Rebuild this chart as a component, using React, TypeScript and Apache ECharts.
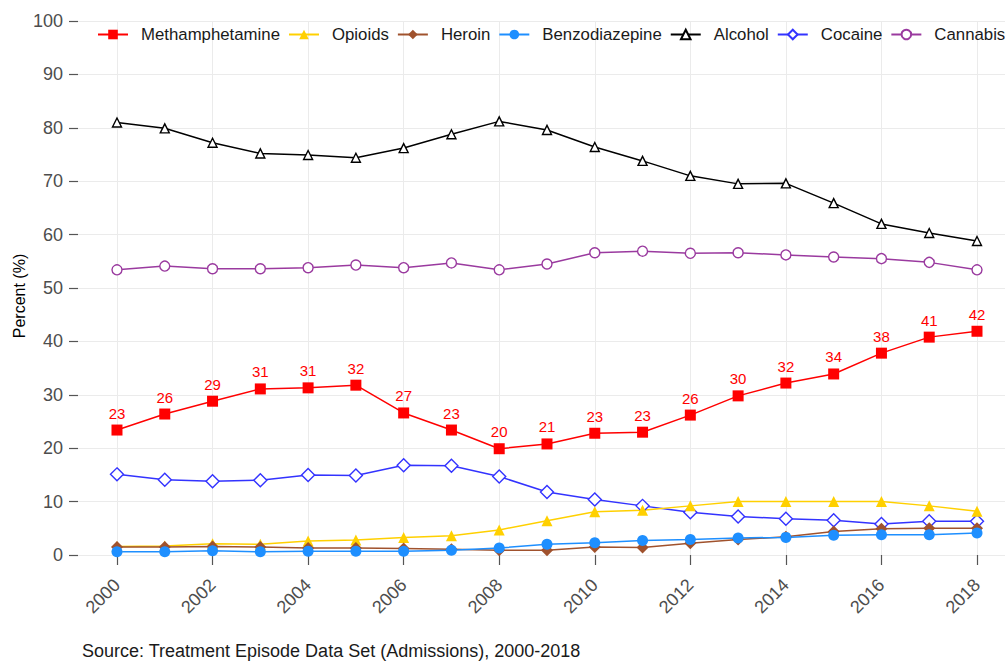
import React, { useEffect, useRef } from "react";
import * as echarts from "echarts";

const years = [2000, 2001, 2002, 2003, 2004, 2005, 2006, 2007, 2008, 2009, 2010, 2011, 2012, 2013, 2014, 2015, 2016, 2017, 2018];
const xTickYears = [2000, 2002, 2004, 2006, 2008, 2010, 2012, 2014, 2016, 2018];

const methamphetamine = [23.4, 26.4, 28.8, 31.1, 31.3, 31.8, 26.6, 23.4, 19.9, 20.8, 22.8, 23.0, 26.2, 29.8, 32.2, 33.9, 37.8, 40.8, 41.9];
const opioids = [1.6, 1.7, 2.1, 2.0, 2.6, 2.8, 3.3, 3.6, 4.7, 6.4, 8.1, 8.4, 9.2, 10.0, 10.0, 10.0, 10.0, 9.2, 8.2];
const heroin = [1.5, 1.5, 1.6, 1.5, 1.3, 1.3, 1.2, 1.1, 0.9, 0.9, 1.5, 1.4, 2.2, 2.9, 3.4, 4.4, 4.9, 5.0, 5.0];
const benzodiazepine = [0.6, 0.6, 0.8, 0.6, 0.7, 0.7, 0.7, 0.9, 1.3, 2.0, 2.3, 2.7, 2.9, 3.2, 3.3, 3.7, 3.8, 3.8, 4.1];
const alcohol = [81.0, 79.9, 77.2, 75.2, 74.9, 74.4, 76.2, 78.8, 81.2, 79.6, 76.4, 73.8, 71.0, 69.5, 69.6, 65.9, 62.0, 60.3, 58.8];
const cocaine = [15.1, 14.1, 13.8, 14.0, 15.0, 14.9, 16.8, 16.7, 14.7, 11.8, 10.4, 9.2, 8.0, 7.2, 6.8, 6.5, 5.8, 6.3, 6.3];
const cannabis = [53.4, 54.1, 53.6, 53.6, 53.8, 54.3, 53.8, 54.7, 53.4, 54.5, 56.6, 56.9, 56.5, 56.6, 56.2, 55.8, 55.5, 54.8, 53.4];

const FONT = "Liberation Sans, Arial, Helvetica, sans-serif";

function pairs(vals: number[]) {
  return years.map((y, i) => [y, vals[i]]);
}

export default function App() {
  const ref = useRef<HTMLDivElement>(null);
  useEffect(() => {
    if (!ref.current) return;
    const chart = echarts.init(ref.current, null, { renderer: "svg" });
    const mk = (
      name: string,
      vals: number[],
      color: string,
      symbol: string,
      size: number,
      hollow: boolean,
      extra: any = {}
    ) => ({
      name,
      type: "line",
      data: pairs(vals),
      symbol,
      symbolSize: size,
      showAllSymbol: true,
      lineStyle: { color, width: 1.5 },
      itemStyle: hollow
        ? { color: "#ffffff", borderColor: color, borderWidth: 1.4 }
        : { color, borderColor: color, borderWidth: 0 },
      emphasis: { disabled: true },
      ...extra,
    });
    chart.setOption({
      animation: false,
      textStyle: { fontFamily: FONT },
      grid: { left: 78, right: 0, top: 21, bottom: 106, containLabel: false },
      legend: {
        left: 92,
        top: 21,
        width: 1100,
        itemWidth: 30,
        itemHeight: 12,
        itemGap: 8,
        textStyle: { fontSize: 16.8, color: "#1a1a1a", fontFamily: FONT, padding: [0, 0, 0, 8] },
        data: ["Methamphetamine", "Opioids", "Heroin", "Benzodiazepine", "Alcohol", "Cocaine", "Cannabis"],
      },
      xAxis: {
        type: "value",
        min: 1999.184,
        max: 2018.586,
        offset: 13,
        axisLine: { show: false },
        axisTick: {
          show: true,
          length: 10,
          customValues: xTickYears,
          lineStyle: { color: "#555555", width: 1.2 },
        },
        axisLabel: {
          customValues: xTickYears,
          rotate: 45,
          fontSize: 18,
          color: "#4d4d4d",
          margin: 14,
          formatter: (v: number) => String(Math.round(v)),
        },
        splitLine: { show: true, lineStyle: { color: "#ebebeb", width: 1 } },
      },
      yAxis: {
        type: "value",
        min: 0,
        max: 100,
        interval: 10,
        axisLine: { show: false },
        axisTick: { show: true, length: 9, lineStyle: { color: "#555555", width: 1.2 } },
        axisLabel: { fontSize: 18, color: "#4d4d4d", margin: 15 },
        splitLine: { show: true, lineStyle: { color: "#ebebeb", width: 1 } },
      },
      graphic: [
        {
          type: "text",
          x: 19,
          y: 296,
          rotation: Math.PI / 2,
          style: {
            text: "Percent (%)",
            fontSize: 16,
            fontFamily: FONT,
            fill: "#000000",
            align: "center",
            verticalAlign: "middle",
          },
        },
        {
          type: "text",
          x: 82,
          y: 651,
          style: {
            text: "Source: Treatment Episode Data Set (Admissions), 2000-2018",
            fontSize: 18,
            fontFamily: FONT,
            fill: "#1a1a1a",
            align: "left",
            verticalAlign: "middle",
          },
        },
      ],
      series: [
        mk("Alcohol", alcohol, "#000000", "triangle", 9, true),
        mk("Cannabis", cannabis, "#9a3a9f", "circle", 10, true),
        mk("Cocaine", cocaine, "#3333ff", "diamond", 13, true),
        mk("Opioids", opioids, "#ffd000", "triangle", 11, false),
        mk("Heroin", heroin, "#a0522d", "diamond", 12, false),
        mk("Benzodiazepine", benzodiazepine, "#1e8fff", "circle", 11, false),
        mk("Methamphetamine", methamphetamine, "#ff0000", "rect", 11, false, {
          label: {
            show: true,
            position: "top",
            distance: 4,
            color: "#ff0000",
            fontSize: 15,
            fontFamily: FONT,
            formatter: (p: any) => String(Math.round(p.value[1])),
          },
        }),
      ],
    });
    return () => chart.dispose();
  }, []);
  return (
    <div
      ref={ref}
      style={{ position: "fixed", left: 0, top: 0, width: 1005, height: 661, background: "#ffffff" }}
    />
  );
}
